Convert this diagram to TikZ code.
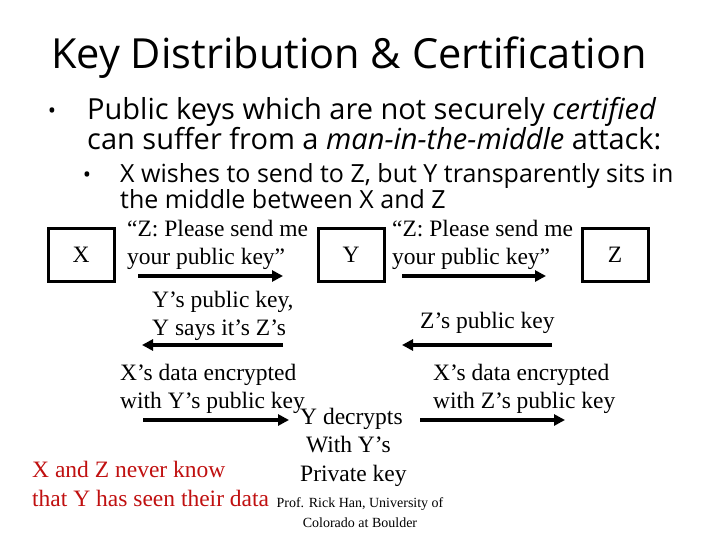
\documentclass[tikz,border=0pt]{standalone}
\usepackage{fontspec}
\setmainfont{Liberation Serif}
\newfontfamily\slidefont{Open Sans}
\usetikzlibrary{arrows.meta,positioning}
\definecolor{notered}{RGB}{192,16,16}
\tikzset{
  slidetitle/.style={inner sep=0pt, font=\slidefont\fontsize{41.5}{48}\selectfont},
  bulletmark/.style={inner sep=0pt, font=\slidefont\fontsize{22}{26}\selectfont},
  pointtext/.style={align=left, inner sep=0pt, anchor=west, font=\slidefont\fontsize{29}{30}\selectfont},
  subtext/.style={align=left, inner sep=0pt, anchor=west, font=\slidefont\fontsize{25}{26.5}\selectfont},
  party/.style={draw, line width=3pt, minimum width=66pt, minimum height=53pt, inner sep=0pt, font=\fontsize{23.5}{26}\selectfont},
  msg/.style={align=left, inner sep=0pt, anchor=west, font=\fontsize{23.5}{28.5}\selectfont},
  flow/.style={-{Triangle[length=11pt,width=11pt]}, line width=4pt},
  credit/.style={align=center, inner sep=0pt, font=\fontsize{14}{20}\selectfont},
}
\begin{document}
\begin{tikzpicture}[x=1pt,y=-1pt]
  \useasboundingbox (0,0) rectangle (720,540);
  % Title and bullets
  \node[slidetitle] (head) at (349,58) {Key Distribution \& Certification};
  \node[bulletmark] (dot1) at (52,113) {•};
  \node[pointtext] (point1) at (87,124) {Public keys which are not securely \textit{certified}\\can suffer from a \textit{man-in-the-middle} attack:};
  \node[bulletmark] (dot2) at (87,177) {•};
  \node[subtext] (point2) at (120,186) {X wishes to send to Z, but Y transparently sits in\\the middle between X and Z};

  % Parties
  \node[party] (X) at (81,255) {X};
  \node[party] (Y) at (351,255) {Y};
  \node[party] (Z) at (615,255) {Z};

  % Messages
  \node[msg] (ask1) at (127,245) {``Z: Please send me\\your public key''};
  \node[msg] (ask2) at (392,245) {``Z: Please send me\\your public key''};
  \node[msg] (fake) at (152,316) {Y's public key,\\Y says it's Z's};
  \node[msg] (real) at (420,323) {Z's public key};
  \node[msg] (data1) at (120,389) {X's data encrypted\\with Y's public key};
  \node[msg] (data2) at (433,389) {X's data encrypted\\with Z's public key};
  \node[msg] (peek) at (300,447) {Y decrypts\\\ With Y's\\Private key};
  \node[msg, text=notered] (note) at (32,484) {X and Z never know\\that Y has seen their data};
  \node[credit] (src) at (360,513) {Prof. Rick Han, University of\\Colorado at Boulder};

  % Arrow ends
  \coordinate (a1s) at (138,276); \coordinate (a1e) at (283,276);
  \coordinate (a2s) at (402,276); \coordinate (a2e) at (546,276);
  \coordinate (a3s) at (283,345); \coordinate (a3e) at (142,345);
  \coordinate (a4s) at (552,345); \coordinate (a4e) at (402,345);
  \coordinate (a5s) at (143,420); \coordinate (a5e) at (289,420);
  \coordinate (a6s) at (420,420); \coordinate (a6e) at (565,420);

  % Arrows
  \draw[flow] (a1s) -- (a1e);
  \draw[flow] (a2s) -- (a2e);
  \draw[flow] (a3s) -- (a3e);
  \draw[flow] (a4s) -- (a4e);
  \draw[flow] (a5s) -- (a5e);
  \draw[flow] (a6s) -- (a6e);
\end{tikzpicture}
\end{document}
